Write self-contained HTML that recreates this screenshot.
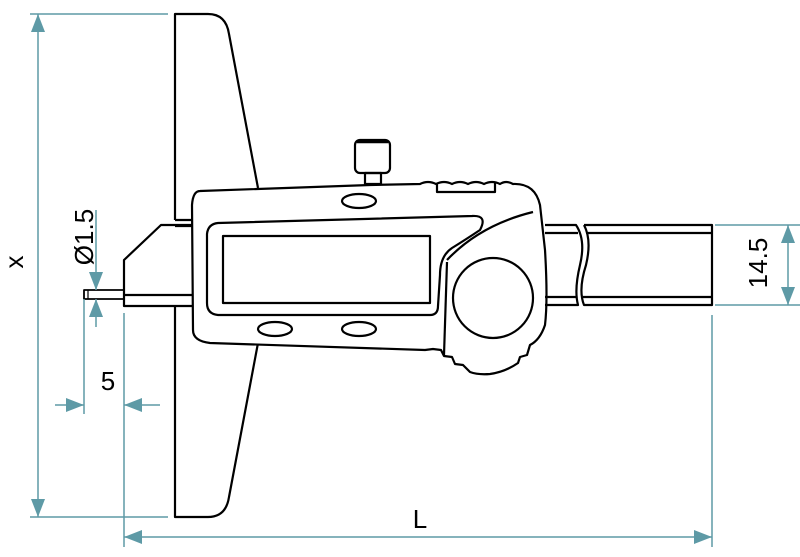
<!DOCTYPE html>
<html><head><meta charset="utf-8"><style>body{margin:0;background:#fff}svg{display:block}text{font-family:"Liberation Sans",sans-serif;font-size:26px;fill:#000}</style></head><body>
<svg width="800" height="557" viewBox="0 0 800 557" xmlns="http://www.w3.org/2000/svg">
<defs>
<marker id="a" viewBox="0 0 12 12" refX="12" refY="6" markerWidth="12" markerHeight="12" markerUnits="userSpaceOnUse" orient="auto-start-reverse"><path d="M0,0 L12,6 L0,12 z" fill="#5e9aa6"/></marker>
<marker id="b" viewBox="0 0 18 14" refX="18" refY="7" markerWidth="18" markerHeight="14" markerUnits="userSpaceOnUse" orient="auto-start-reverse"><path d="M0,0 L18,7 L0,14 z" fill="#5e9aa6"/></marker>
</defs>
<g fill="none" stroke="#000" stroke-width="2.2" stroke-linejoin="round">
<path d="M175,220 L175,14 L208,14 Q226,14 229,34 L258,188"/>
<path d="M258,343 L229,497 Q226,517 208,517 L175,517 L175,306"/>
<path d="M175,220 L192,220 M175,226 L192,226"/>
<path d="M192,225 L161,225 L124,260 L124,306 L192,306 M124,295 L192,295"/>
<path d="M124,290 L84,290 L84,299 L124,299" stroke-width="1.8"/>
<path d="M88,290 L88,299" stroke-width="1.2"/>
<rect x="355" y="140" width="35" height="33" rx="5" fill="#fff"/>
<path d="M357,141.5 L388,141.5" stroke-width="3.5"/>
<rect x="365" y="173" width="16" height="11"/>
<path d="M200,191 L370,185 L420,184 Q428,180 436,184 Q444,180 452,184 Q460,180 468,184 Q476,180 484,184 Q492,180 500,184 Q506,180 513,184 Q535,183 540,205 L545,250 Q548,300 545,325 Q540,340 530,345 L527,355 L520,357 L518,363 Q505,372 490,374 Q478,375 470,372 L463,365 L455,364 L452,357 L444,356 L441,350 L433,349 L425,350 L210,343 Q193,341 193,330 L192,205 Q193,191 200,191 Z" fill="#fff"/>
<path d="M437,183 L437,192 L495,192 L495,183"/>
<path d="M218,223 L472,216 Q488,215 480,230 Q465,240 452,248 Q440,256 440,275 L438,306 Q438,315 430,315 L218,315 Q207,314 207,303 L207,234 Q208,224 218,223 Z"/>
<rect x="223" y="236" width="207" height="67"/>
<path d="M447,260 Q480,225 533,212"/>
<path d="M447,262 L444,355"/>
<circle cx="493" cy="298" r="40"/>
<ellipse cx="359" cy="201" rx="17" ry="7"/>
<ellipse cx="275" cy="329" rx="17" ry="7"/>
<ellipse cx="359" cy="329" rx="17" ry="7"/>
<path d="M545,225 L576,225 Q586,240 580,265 Q574,290 578,305 L545,305 M545,233 L578,233 M545,297 L576,297"/>
<path d="M584,225 L712,225 L712,305 L584,305 Q578,290 586,265 Q592,240 584,225 M586,233 L712,233 M583,297 L712,297"/>
</g>
<g stroke="#5e9aa6" stroke-width="1.5" fill="none">
<path d="M30,14 L168,14 M30,517 L168,517"/>
<path d="M38,14 L38,517" marker-start="url(#b)" marker-end="url(#b)"/>
<path d="M96,210 L96,290" marker-end="url(#b)"/>
<path d="M96,327 L96,299" marker-end="url(#b)"/>
<path d="M84,299 L84,414 M124,313 L124,547"/>
<path d="M55,405 L84,405" marker-end="url(#b)"/>
<path d="M160,405 L124,405" marker-end="url(#b)"/>
<path d="M124,537 L712,537" marker-start="url(#b)" marker-end="url(#b)"/>
<path d="M712,315 L712,547"/>
<path d="M715,225 L800,225 M715,305 L800,305"/>
<path d="M788,225 L788,305" marker-start="url(#b)" marker-end="url(#b)"/>
</g>
<text x="14" y="262" transform="rotate(-90 14 262)" text-anchor="middle" dominant-baseline="central">x</text>
<text x="84" y="237" transform="rotate(-90 84 237)" text-anchor="middle" dominant-baseline="central">Ø1.5</text>
<text x="108" y="390" text-anchor="middle">5</text>
<text x="420" y="528" text-anchor="middle">L</text>
<text x="758" y="263" transform="rotate(-90 758 263)" text-anchor="middle" dominant-baseline="central">14.5</text>
</svg>
</body></html>
